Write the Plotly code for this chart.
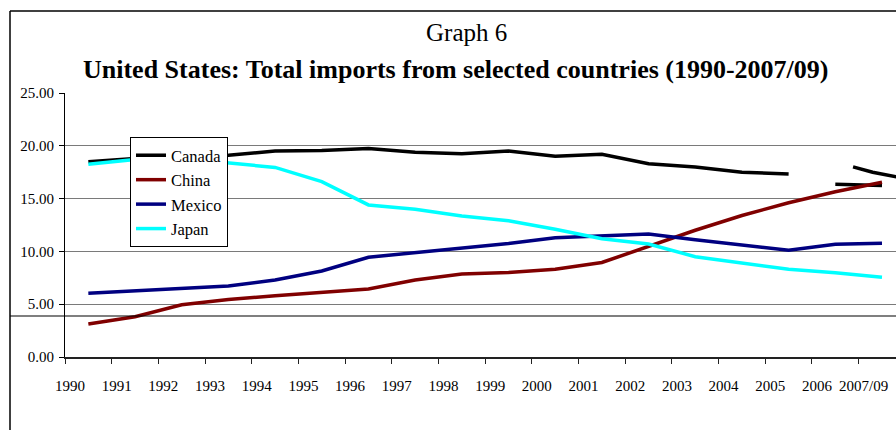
import plotly.graph_objects as go

years = ["1990", "1991", "1992", "1993", "1994", "1995", "1996", "1997", "1998",
         "1999", "2000", "2001", "2002", "2003", "2004", "2005", "2006", "2007/09"]

# Canada has a break between 2005 and 2006
canada_main = [18.5, 18.8, 19.0, 19.1, 19.5, 19.55, 19.75, 19.4, 19.25, 19.5,
               19.0, 19.2, 18.3, 18.0, 17.5, 17.33]          # 1990-2005
canada_tail = [16.35, 16.25]                                   # 2006, 2007/09
canada_extra_pos = [16.88, 17.3, 18.0]                         # stray partial segment
canada_extra = [18.0, 17.5, 16.9]

china = [3.13, 3.82, 4.95, 5.45, 5.8, 6.1, 6.45, 7.3, 7.85, 8.0,
         8.3, 8.95, 10.5, 12.0, 13.4, 14.6, 15.65, 16.55]
mexico = [6.03, 6.28, 6.45, 6.72, 7.3, 8.15, 9.45, 9.9, 10.3, 10.75,
          11.3, 11.5, 11.65, 11.1, 10.6, 10.1, 10.67, 10.76]
japan = [18.25, 18.7, 18.8, 18.4, 17.95, 16.6, 14.4, 14.0, 13.35, 12.9,
         12.1, 11.2, 10.7, 9.5, 8.87, 8.3, 7.98, 7.55]

y_ticks = [0, 5, 10, 15, 20, 25]

FONT = "Liberation Serif, Times New Roman, serif"

# category centres on a numeric axis (category i spans [i, i+1])
xc = [i + 0.5 for i in range(len(years))]

fig = go.Figure()
LW = 3.5
fig.add_trace(go.Scatter(x=xc[:len(canada_main)], y=canada_main, mode="lines", name="Canada",
                         legendgroup="ca", line=dict(color="#000000", width=LW)))
fig.add_trace(go.Scatter(x=xc[len(canada_main):], y=canada_tail, mode="lines", name="Canada",
                         legendgroup="ca", showlegend=False, line=dict(color="#000000", width=LW)))
fig.add_trace(go.Scatter(x=canada_extra_pos, y=canada_extra, mode="lines", name="Canada",
                         legendgroup="ca", showlegend=False, line=dict(color="#000000", width=LW)))
fig.add_trace(go.Scatter(x=xc, y=china, mode="lines", name="China", legendgroup="cn",
                         line=dict(color="#800000", width=LW)))
fig.add_trace(go.Scatter(x=xc, y=mexico, mode="lines", name="Mexico", legendgroup="mx",
                         line=dict(color="#000080", width=LW)))
fig.add_trace(go.Scatter(x=xc, y=japan, mode="lines", name="Japan", legendgroup="jp",
                         line=dict(color="#00FFFF", width=LW)))

L, T, B = 65, 93, 73
W, H = 896, 430
pw, ph = W - L, H - T - B


def px(xpix):
    return (xpix - L) / pw


def py(ypix):
    return (H - B - ypix) / ph


fig.update_layout(
    width=W, height=H,
    margin=dict(l=L, r=0, t=T, b=B),
    paper_bgcolor="white", plot_bgcolor="white",
    font=dict(family=FONT, color="black", size=15),
    showlegend=True,
    legend=dict(x=px(130), y=py(137), xanchor="left", yanchor="top",
                bgcolor="white", bordercolor="black", borderwidth=1,
                font=dict(family=FONT, size=16.5, color="black"),
                tracegroupgap=4, traceorder="normal"),
    xaxis=dict(range=[0, 17.8], tickmode="array",
               tickvals=list(range(len(years))), ticktext=years,
               showgrid=False, zeroline=False, showline=True,
               linecolor="#222222", linewidth=1.5,
               ticks="outside", ticklen=5, tickcolor="#222222",
               ticklabelshift=5, ticklabelstandoff=9,
               tickfont=dict(family=FONT, size=15, color="black")),
    yaxis=dict(range=[0, 25], tickmode="array", tickvals=y_ticks,
               tickformat=".2f", showgrid=True, gridcolor="#7a7a7a", gridwidth=1.4,
               zeroline=False, showline=True, linecolor="#000000", linewidth=1,
               ticks="outside", ticklen=5, tickcolor="#000000",
               ticklabelstandoff=2,
               tickfont=dict(family=FONT, size=15, color="black")),
    annotations=[
        dict(text="Graph 6", x=px(466), y=py(32), xref="paper", yref="paper",
             xanchor="center", yanchor="middle", showarrow=False,
             font=dict(family=FONT, size=25, color="black")),
        dict(text="<b>United States: Total imports from selected countries (1990-2007/09)</b>",
             x=px(455), y=py(69), xref="paper", yref="paper",
             xanchor="center", yanchor="middle", showarrow=False,
             font=dict(family=FONT, size=26, color="black")),
    ],
    shapes=[
        # outer frame (left and top borders)
        dict(type="line", xref="paper", yref="paper", x0=px(10), x1=px(10),
             y0=py(11), y1=py(440), line=dict(color="black", width=1.5)),
        dict(type="line", xref="paper", yref="paper", x0=px(10), x1=px(910),
             y0=py(11), y1=py(11), line=dict(color="black", width=1.5)),
        # stray horizontal rule across the frame
        dict(type="line", xref="paper", yref="paper", x0=px(10), x1=px(910),
             y0=py(316), y1=py(316), line=dict(color="black", width=1.2)),
    ],
)

fig.write_html("out.html")
